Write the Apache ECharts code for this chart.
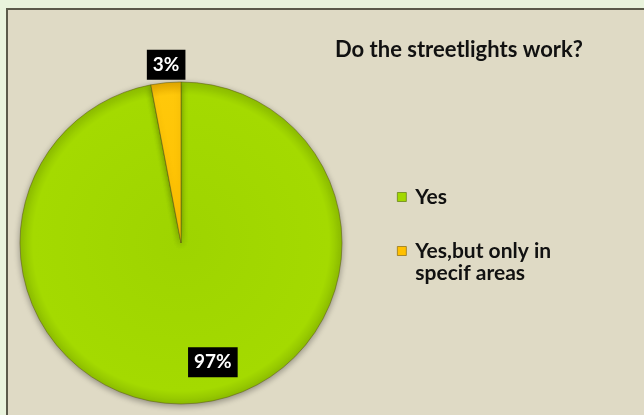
<!DOCTYPE html>
<html>
<head>
<meta charset="utf-8">
<script src="https://cdn.jsdelivr.net/npm/echarts@6/dist/echarts.min.js"></script>
<style>
  html, body { margin: 0; padding: 0; background: #E9F3DC; }
  #chart { width: 644px; height: 415px; }
</style>
</head>
<body>
<div id="chart"></div>
<script>
// Survey answers
const titleText = 'Do the streetlights work?';
const categories = ['Yes', 'Yes,but only in specif areas'];
const shares = [97, 3];
// the leading blank line keeps the legend swatch level with the first text line
const legendLines = { 'Yes,but only in specif areas': ' \nYes,but only in\nspecif areas' };

const FONT = 'Lato, "Open Sans", sans-serif';
const PIE_CX = 181, PIE_CY = 243, PIE_R = 161;

// shading shared by the whole pie, so each slice darkens toward the rim
function rimShade(inner, mid, edge) {
  return {
    type: 'radial', x: PIE_CX, y: PIE_CY, r: PIE_R, global: true,
    colorStops: [
      { offset: 0, color: inner },
      { offset: 0.92, color: mid },
      { offset: 1, color: edge }
    ]
  };
}
const sliceColors = [
  rimShade('#9ED400', '#A4DA00', '#8EBF00'),
  rimShade('#FFC000', '#FFC80A', '#E3A800')
];
const iconColors = ['#A2D800', '#FFC000'];
// nudges of the percentage boxes away from the default inside spot
const labelShift = [[24, 36], [-7, -95]];

const chart = echarts.init(document.getElementById('chart'), null, { renderer: 'canvas' });

chart.setOption({
  backgroundColor: '#E9F3DC',
  animation: false,
  graphic: [{
    type: 'rect',
    z: -10,
    shape: { x: 7, y: 9, width: 660, height: 430 },
    style: { fill: '#DFDAC5', stroke: '#5B5A4A', lineWidth: 2 }
  }],
  title: {
    text: titleText,
    left: 330,
    top: 34,
    textStyle: { fontFamily: FONT, fontWeight: 'bold', fontSize: 22, color: '#111' }
  },
  legend: {
    orient: 'vertical',
    left: 392,
    top: 181,
    itemWidth: 9,
    itemHeight: 9,
    itemGap: 10,
    icon: 'rect',
    formatter: name => legendLines[name] || name,
    textStyle: {
      fontFamily: FONT, fontWeight: 'bold', fontSize: 21, color: '#111',
      lineHeight: 22, padding: [0, 0, 0, 4]
    },
    data: [
      { name: categories[0], itemStyle: { color: iconColors[0], borderColor: '#5F7A10', borderWidth: 0.7 } },
      { name: categories[1], itemStyle: { color: iconColors[1], borderColor: '#8A6A10', borderWidth: 0.7 } }
    ]
  },
  series: [{
    type: 'pie',
    center: [PIE_CX, PIE_CY],
    radius: PIE_R,
    startAngle: 90,
    clockwise: true,
    legendHoverLink: false,
    emphasis: { disabled: true },
    itemStyle: {
      borderColor: 'rgba(95,95,20,0.55)',
      borderWidth: 1,
      shadowBlur: 6,
      shadowColor: 'rgba(0,0,0,0.35)',
      shadowOffsetY: 2
    },
    label: {
      show: true,
      position: 'inside',
      formatter: '{c}%',
      color: '#fff',
      fontFamily: FONT,
      fontWeight: 'bold',
      fontSize: 19,
      backgroundColor: '#000',
      padding: [6, 6, 5, 6]
    },
    labelLine: { show: false },
    labelLayout: p => ({ dx: labelShift[p.dataIndex][0], dy: labelShift[p.dataIndex][1] }),
    data: categories.map((name, i) => ({
      name,
      value: shares[i],
      itemStyle: { color: sliceColors[i] }
    }))
  }]
});
</script>
</body>
</html>
